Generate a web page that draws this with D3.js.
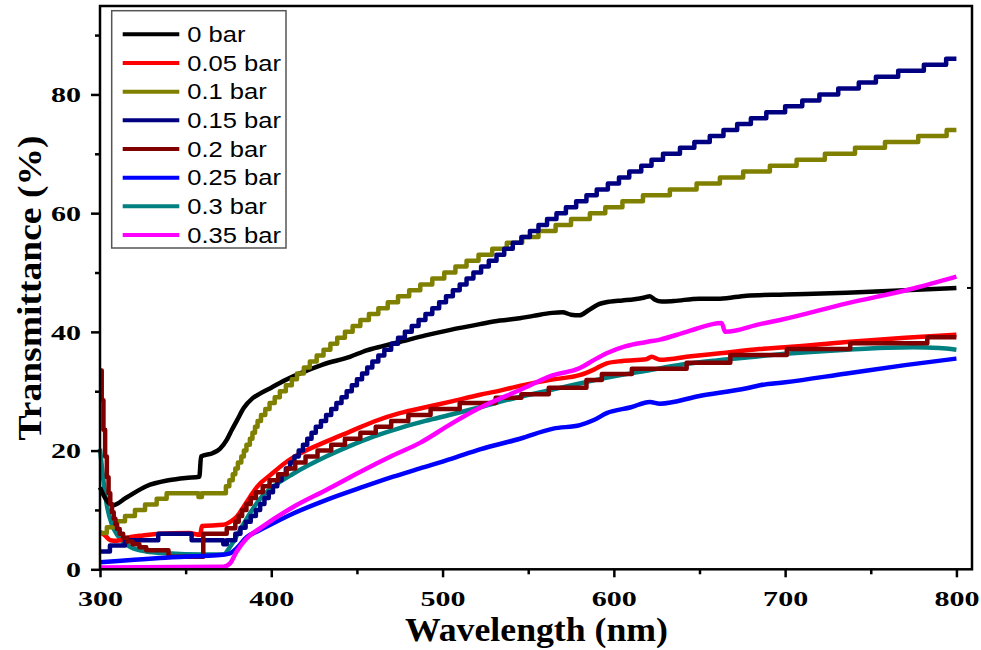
<!DOCTYPE html>
<html>
<head>
<meta charset="utf-8">
<script src="https://cdn.jsdelivr.net/npm/d3@7"></script>
<style>
  html, body { margin: 0; padding: 0; background: #ffffff; }
  svg { display: block; }
</style>
</head>
<body>
<svg id="chart" width="981" height="650"></svg>
<script>
// Optical transmittance spectra of films grown at different pressures.
// Each series: [wavelength (nm), transmittance (%)]

const seriesNames = ["0 bar", "0.05 bar", "0.1 bar", "0.15 bar", "0.2 bar", "0.25 bar", "0.3 bar", "0.35 bar"];
const seriesColors = ["#000000", "#ff0000", "#808000", "#000080", "#800000", "#0000ff", "#008080", "#ff00ff"];
// series recorded with coarse (quantised) readings are drawn as steps
const seriesStepped = [false, false, true, true, true, false, false, false];
// painting order of the curves (first index is drawn lowest)
const drawOrder = [6, 0, 1, 2, 3, 4, 5, 7];

const bar0 = [[300,13.8],[303,12.0],[307.6,10.8],[315,12.0],[327,14.0],[340,15.0],[350,15.4],[358,15.6],[359,19.0],
  [366,19.6],[370,20.3],[374,21.8],[377,23.5],[380,25.1],[384,27.2],[389,28.8],[393.4,29.6],[400,30.6],[405,31.4],
  [416.8,33.0],[430,34.5],[445.9,35.8],[455.7,36.9],[465,37.6],[475,38.3],[490,39.4],[504,40.3],[521.8,41.3],
  [533.5,41.9],[545,42.3],[553,42.7],[564,43.2],[570,43.3],[575,42.9],[580,42.8],[585,43.6],[590,44.5],[597.7,45.1],
  [605,45.3],[612,45.5],[618,45.8],[621,46.0],[624,45.4],[628,45.1],[635,45.2],[650,45.6],[662,45.6],[677.5,46.1],
  [700,46.3],[735.9,46.6],[770,47.0],[800,47.4]];

const bar005 = [[300,6.3],[303,5.7],[306,4.9],[310,4.8],[316,5.3],[325,5.7],[335,6.0],[352,6.1],[358.5,5.8],[359.5,7.3],
  [372,7.5],[376,8.0],[380,8.9],[384,10.6],[387.6,12.2],[391.7,13.9],[400,16.0],[408,17.9],[416.8,19.5],[432,21.5],
  [446,23.2],[460,24.9],[475,26.3],[490,27.3],[504,28.2],[521.8,29.4],[533.5,30.1],[545,30.9],[564.6,32.0],[580,32.7],
  [588,33.6],[595.8,34.7],[605,35.1],[619,35.4],[622,35.8],[627,35.3],[645,35.9],[662,36.4],[685,37.1],[700,37.4],
  [736,38.3],[770,39.0],[800,39.5]];

const bar01 = [[300,6.1],[304,7.1],[309.7,8.1],[314.6,9.0],[320.4,10.0],[326.3,10.9],[333.1,11.9],[338.9,12.8],
  [357.5,12.2],[359.5,12.8],[373.5,14],[375.5,15],[377.5,16],[379,17],[380.5,18],[382.5,19],[384,20],[385.5,21],
  [387.5,22],[389,23],[390.5,24],[392,25],[394,26],[396.5,27],[399,28],[402,29],[405,30],[408.5,31],[412,32],
  [415,33],[419,34],[422.5,35],[426.5,36],[430.5,37],[434.5,38],[438.5,39],[443,40],[447.5,41],[452,42],[457,43],
  [462.5,44],[468,45],[474,46],[480.5,47],[487,48],[494,49],[501,50],[507.5,51],[514,52],[521,53],[529,54],
  [537.5,55],[546.5,56],[556,57],[566,58],[575,59],[586,60],[595,61],[605,62],[617,63],[632.7,64],[648.3,65],
  [661.9,66],[675.5,67],[691.1,68],[706.7,69],[723.2,70],[740.8,71],[758.3,72],[777.7,73],[794.3,74],[800,74]];

const bar015 = [[300,3.0],[305.8,4.0],[314.6,4.9],[334,6.0],[353.5,4.9],[372,4.2],[374,4.9],[379,6],[382,7],[385,8],
  [388,9],[391,10],[393.5,11],[396,12],[398.5,13],[401,14],[403.5,15],[406,16],[408.5,17],[411,18],[413.5,19],
  [416,20],[418.5,21],[421,22],[423.5,23],[426,24],[429,25],[432,26],[435,27],[438,28],[441,29],[444,30],[447,31],
  [450,32],[453,33],[456,34],[459,35],[462.5,36],[466,37],[470,38],[474,39],[478,40],[482,41],[486,42],[490,43],
  [494,44],[498,45],[502,46],[506,47],[510,48],[514,49],[518,50],[522.5,51],[527,52],[531.5,53],[536,54],[541,55],
  [546,56],[551,57],[556,58],[561,59],[566.5,60],[572,61],[578,62],[584,63],[590,64],[596.5,65],[603,66],[609,67],
  [616,68],[622,69],[628.7,70],[638.6,71],[647,72],[656,73],[664,74],[672,75],[680,76],[689,77],[700,78],[710,79],
  [720,80],[731,81],[743,82],[753,83],[766,84],[781,85],[794,86],[800,86]];

const bar02 = [[300,33.5],[301,28.5],[302,23.5],[303,19],[304,15.5],[305,12.8],[306,11],[307,9.6],[308,8.5],[309,7.6],
  [310,6.8],[311.5,6.0],[313.5,5.3],[316,4.7],[319,4.2],[323,3.7],[327,3.2],[340,2.1],[360.3,6.0],[374,6.9],[379,8],
  [381,9],[383,10],[385.5,11],[388,12],[391,13],[395,14],[399,15],[404,16],[409,17],[414,18],[420,19],[427,20],
  [435,21],[443,22],[452,23],[461,24],[470,25],[480,26],[493,27],[510,28],[531,28.9],[546,29.5],[562,30.6],
  [584,31.9],[593,32.9],[610.5,33.8],[642.5,34.8],[668,36.1],[701,37.1],[738,38.1],[783,39.1],[800,39.1]];

const bar025 = [[300,1.2],[320,1.6],[335,1.9],[355,2.2],[370,2.4],[375.9,2.7],[380,3.6],[385.6,5.4],[393.4,6.6],
  [412.8,9.4],[432.3,11.7],[451.8,13.7],[471.2,15.6],[486.8,17.0],[505,18.6],[521.8,20.2],[545.2,22.0],[564.6,23.7],
  [580.2,24.3],[588,25.1],[595.8,26.3],[610,27.3],[621,28.2],[626.9,27.9],[650,29.2],[677.6,30.5],[685.3,31.0],
  [700,31.5],[736,33.0],[770,34.4],[800,35.5]];

const bar03 = [[300,20.3],[302,15],[304,10.8],[307,7.5],[310,5.8],[314,4.5],[318,3.7],[327,3.0],[339,2.7],[360,2.5],
  [372,2.5],[376,3.8],[381.7,6.6],[389.5,10.3],[395,12.4],[401,13.9],[412.8,16.1],[432,19.0],[446,20.8],[460,22.4],
  [475,23.8],[490,25.0],[504,26.0],[521.8,27.3],[540,28.7],[560,30.0],[580,31.3],[600,32.5],[620,33.5],[640,34.5],
  [660,35.2],[685,35.9],[700,36.3],[736,37.0],[775,37.4],[790,37.3],[800,37.0]];

const bar035 = [[300,0.3],[372,0.45],[375.9,1.0],[379.8,3.0],[385.6,5.2],[393.4,6.9],[412.8,10.5],[432.3,13.4],
  [451.8,16.4],[471.2,19.2],[486.8,21.3],[505,24.5],[521.8,27.2],[545.2,30.2],[564.6,32.7],[580.2,33.9],[588,35.2],
  [595.8,36.4],[607,37.6],[619.1,38.3],[626.9,38.7],[642.5,40.0],[662.9,41.5],[665,40.0],[685.3,41.3],[697,42.0],
  [736,44.8],[774.8,47.3],[800,49.3]];

const seriesData = [bar0, bar005, bar01, bar015, bar02, bar025, bar03, bar035];

const xTicks = [300, 400, 500, 600, 700, 800];
const xMinorTicks = [350, 450, 550, 650, 750];
const yTicks = [0, 20, 40, 60, 80];
const yMinorTicks = [10, 30, 50, 70, 90];
const xTitle = "Wavelength (nm)";
const yTitle = "Transmittance (%)";

// ---- layout ----
const plot = { left: 100, right: 972, top: 6, bottom: 569.3 };
const svg = d3.select("#chart");

const x = d3.scaleLinear().domain([300, 809.1]).range([plot.left, plot.right]);
const y = d3.scaleLinear().domain([0, 94.9]).range([plot.bottom, plot.top]);

// stretch text glyphs horizontally by a factor
function stretch(sel, k) {
  sel.each(function () {
    const w = this.getComputedTextLength();
    d3.select(this).attr("textLength", w * k).attr("lengthAdjust", "spacingAndGlyphs");
  });
}

// ---- curves ----
const curvesG = svg.append("g");
drawOrder.forEach(i => {
  const line = d3.line()
    .x(d => x(d[0]))
    .y(d => y(d[1]))
    .curve(seriesStepped[i] ? d3.curveStepAfter : d3.curveMonotoneX);
  curvesG.append("path")
    .datum(seriesData[i])
    .attr("d", line)
    .attr("fill", "none")
    .attr("stroke", seriesColors[i])
    .attr("stroke-width", 4.5)
    .attr("stroke-linejoin", "round")
    .attr("stroke-linecap", "butt");
});

// ---- axes ----
const axisFont = "'Liberation Serif', 'Times New Roman', serif";

const xAxisG = svg.append("g").attr("transform", `translate(0,${plot.bottom})`);
xAxisG.call(d3.axisBottom(x).tickValues(xTicks).tickSize(8).tickSizeOuter(0).tickFormat(d3.format("d")));
xAxisG.append("g").call(d3.axisBottom(x).tickValues(xMinorTicks).tickSize(5).tickSizeOuter(0).tickFormat(""));
xAxisG.selectAll(".domain").remove();
xAxisG.selectAll(".tick line").attr("stroke", "#000").attr("stroke-width", 2.5);
xAxisG.selectAll(".tick text")
  .attr("y", 36.7).attr("dy", 0)
  .attr("fill", "#000")
  .style("font-family", axisFont).style("font-weight", "bold").style("font-size", "21px");
stretch(xAxisG.selectAll(".tick text"), 1.43);

const yAxisG = svg.append("g").attr("transform", `translate(${plot.left},0)`);
yAxisG.call(d3.axisLeft(y).tickValues(yTicks).tickSize(9).tickSizeOuter(0).tickFormat(d3.format("d")));
yAxisG.append("g").call(d3.axisLeft(y).tickValues(yMinorTicks).tickSize(5).tickSizeOuter(0).tickFormat(""));
yAxisG.selectAll(".domain").remove();
yAxisG.selectAll(".tick line").attr("stroke", "#000").attr("stroke-width", 2.5);
yAxisG.selectAll(".tick text")
  .attr("x", -19).attr("dy", "0.34em")
  .attr("fill", "#000")
  .style("font-family", axisFont).style("font-weight", "bold").style("font-size", "21px");
stretch(yAxisG.selectAll(".tick text"), 1.43);

// frame
svg.append("rect")
  .attr("x", plot.left).attr("y", plot.top)
  .attr("width", plot.right - plot.left).attr("height", plot.bottom - plot.top)
  .attr("fill", "none").attr("stroke", "#000").attr("stroke-width", 2.5);

// marker on the right axis at the end value of the first series
const lastBlack = bar0[bar0.length - 1][1];
svg.append("line")
  .attr("x1", plot.right - 5).attr("x2", plot.right)
  .attr("y1", y(lastBlack)).attr("y2", y(lastBlack))
  .attr("stroke", "#000").attr("stroke-width", 2);

// axis titles
svg.append("text")
  .attr("x", 536.5).attr("y", 641)
  .attr("text-anchor", "middle")
  .attr("textLength", 263).attr("lengthAdjust", "spacingAndGlyphs")
  .style("font-family", axisFont).style("font-weight", "bold").style("font-size", "33px")
  .text(xTitle);

svg.append("text")
  .attr("transform", "translate(41,288) rotate(-90)")
  .attr("text-anchor", "middle")
  .attr("textLength", 305).attr("lengthAdjust", "spacingAndGlyphs")
  .style("font-family", axisFont).style("font-weight", "bold").style("font-size", "33px")
  .text(yTitle);

// ---- legend ----
const legend = svg.append("g");
legend.append("rect")
  .attr("x", 111.7).attr("y", 10.7).attr("width", 174.3).attr("height", 237.3)
  .attr("fill", "#fff").attr("stroke", "#555").attr("stroke-width", 1.5);
const rowY = i => 34.3 + i * 28.67;
seriesNames.forEach((name, i) => {
  legend.append("line")
    .attr("x1", 122.7).attr("x2", 179.3)
    .attr("y1", rowY(i)).attr("y2", rowY(i))
    .attr("stroke", seriesColors[i]).attr("stroke-width", 4);
  legend.append("text")
    .attr("class", "legend-label")
    .attr("x", 187.3).attr("y", rowY(i) + 7.8)
    .style("font-family", "'Liberation Sans', Arial, sans-serif").style("font-size", "22px")
    .attr("fill", "#000")
    .text(name);
});
stretch(legend.selectAll(".legend-label"), 1.16);
</script>
</body>
</html>
